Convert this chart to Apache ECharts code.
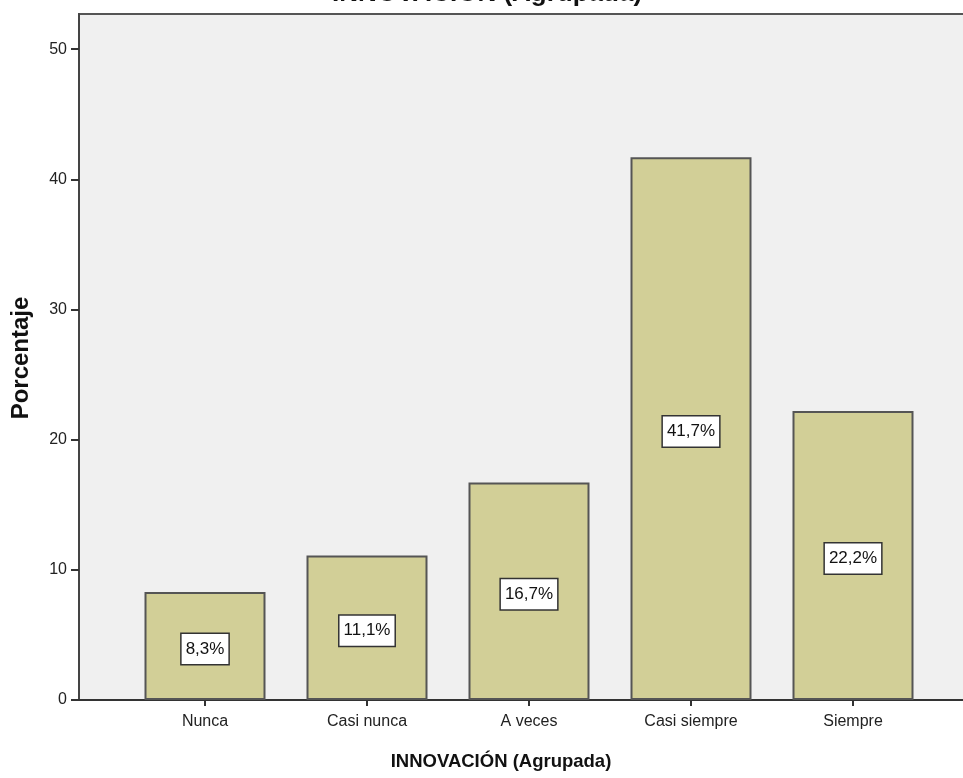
<!DOCTYPE html>
<html>
<head>
<meta charset="utf-8">
<script src="https://cdn.jsdelivr.net/npm/echarts@6/dist/echarts.min.js"></script>
<style>
  html, body { margin: 0; padding: 0; background: #ffffff; }
  #chart { width: 963px; height: 778px; }
</style>
</head>
<body>
<div id="chart"></div>
<script>
// Frequencies of the grouped INNOVACIÓN variable (percent)
const categories = ['Nunca', 'Casi nunca', 'A veces', 'Casi siempre', 'Siempre'];
const percentages = [8.3, 11.1, 16.7, 41.7, 22.2];
const yTicks = [0, 10, 20, 30, 40, 50];

const Y_MAX = 52.7;
const FONT = '"Liberation Sans", Arial, sans-serif';

const fmtPct = v => v.toFixed(1).replace('.', ',') + '%';

const chart = echarts.init(document.getElementById('chart'), null, { renderer: 'canvas' });

chart.setOption({
  animation: false,
  backgroundColor: '#ffffff',
  textStyle: { fontFamily: FONT },
  grid: [
    // frame + shaded plot area (runs past the right edge of the canvas)
    { left: 79, top: 14, width: 899, bottom: 78, show: true, outerBoundsMode: 'none',
      containLabel: false,
      backgroundColor: '#f0f0f0', borderColor: '#555555', borderWidth: 2 },
    // bar area
    { left: 124, top: 14, width: 810, bottom: 78, outerBoundsMode: 'none', containLabel: false }
  ],
  xAxis: [
    { gridIndex: 0, type: 'value', min: 0, max: 1,
      axisLine: { show: true, lineStyle: { color: '#333333', width: 2 } },
      axisTick: { show: false }, axisLabel: { show: false }, splitLine: { show: false } },
    { gridIndex: 1, type: 'category', data: categories,
      axisLine: { show: false },
      axisTick: { show: true, alignWithLabel: true, length: 6, lineStyle: { color: '#333333', width: 2 } },
      axisLabel: { color: '#222222', fontSize: 16, margin: 14, fontFamily: FONT },
      splitLine: { show: false } }
  ],
  yAxis: [
    { gridIndex: 0, type: 'value', min: 0, max: Y_MAX, interval: 10,
      axisLine: { show: true, lineStyle: { color: '#444444', width: 2 } },
      axisTick: { show: true, length: 8, customValues: yTicks,
        lineStyle: { color: '#333333', width: 2 } },
      axisLabel: { color: '#222222', fontSize: 16, margin: 12, fontFamily: FONT,
        customValues: yTicks },
      splitLine: { show: false } },
    { gridIndex: 1, type: 'value', min: 0, max: Y_MAX, show: false }
  ],
  series: [{
    type: 'bar',
    xAxisIndex: 1, yAxisIndex: 1,
    data: percentages,
    barWidth: 121,
    itemStyle: { color: '#d2cf97', borderColor: '#555555', borderWidth: 2 },
    label: {
      show: true, position: 'inside', offset: [0, 3],
      formatter: p => fmtPct(p.value),
      color: '#111111', fontSize: 17, fontFamily: FONT,
      backgroundColor: '#ffffff', borderColor: '#333333', borderWidth: 1.5,
      padding: [7, 4, 6, 4]
    }
  }],
  graphic: [
    { type: 'text', x: 487, y: -6, silent: true,
      style: { text: 'INNOVACIÓN (Agrupada)', fill: '#111111',
        font: 'bold 26px ' + FONT, align: 'center', verticalAlign: 'middle' } },
    { type: 'text', x: 501, y: 762, silent: true,
      style: { text: 'INNOVACIÓN (Agrupada)', fill: '#111111',
        font: 'bold 18.5px ' + FONT, align: 'center', verticalAlign: 'middle' } },
    { type: 'text', x: 21, y: 358, rotation: Math.PI / 2, silent: true,
      style: { text: 'Porcentaje', fill: '#111111',
        font: 'bold 24px ' + FONT, align: 'center', verticalAlign: 'middle' } }
  ]
});
</script>
</body>
</html>
